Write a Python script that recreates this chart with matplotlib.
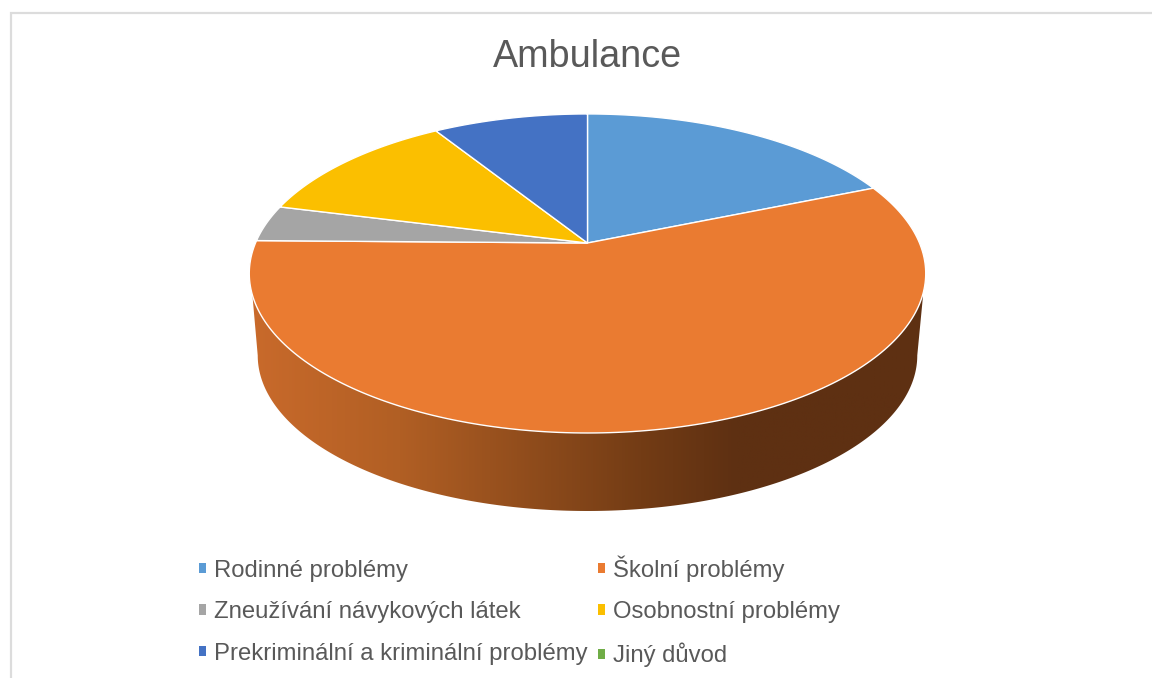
import numpy as np
import matplotlib
matplotlib.use("Agg")
import matplotlib.pyplot as plt
from matplotlib.colors import LinearSegmentedColormap
from matplotlib.patches import Patch, Polygon

plt.rcParams['font.family'] = ['Liberation Sans', 'DejaVu Sans']

title = "Ambulance"
categories = ["Rodinné problémy", "Školní problémy", "Zneužívání návykových látek",
              "Osobnostní problémy", "Prekriminální a kriminální problémy", "Jiný důvod"]
values = [18.75, 56.5, 3.7, 12.15, 8.9, 0.0]  # in percent
colors = ["#5B9BD5", "#EA7B31", "#A5A5A5", "#FBBF00", "#4472C4", "#70AD47"]

# geometry of the tilted disc, in reference pixels
cx, cy = 587.5, 243
rx, ry, persp = 332, 153.7, 0.191
low_scale, low_dy = 0.975, 78


def project(a, scale=1.0, dy=0.0):
    """angle clockwise from 12 o'clock -> pixel position on the tilted disc"""
    X, Y = np.sin(a), np.cos(a)
    w = 1 + persp * Y
    yy = cy - ry * Y / w
    bottom = cy + ry / (1 - persp)
    return cx + scale * rx * X / w, bottom + scale * (yy - bottom) + dy


fig = plt.figure(figsize=(11.52, 6.78), dpi=100)
ax = fig.add_axes([0, 0, 1, 1])

# frame of the screenshot, only top and left show
ax.plot([11, 11, 1152], [678, 13, 13], color="#DCDCDC", lw=1.6, solid_joinstyle="miter")

# side wall: gradient clipped to the outline between top and lower disc
t = np.linspace(0, 2 * np.pi, 721)
lx, ly = project(t, low_scale, low_dy)
i1, i2 = np.argmax(lx), np.argmin(lx)  # widest points, the front arc runs between them
outline = np.r_[[[923, 296]], np.c_[lx[i1:i2 + 1], ly[i1:i2 + 1]], [[252.5, 296]], [[587, 280]]]
wall_cmap = LinearSegmentedColormap.from_list("wall", [
    (0.0, "#C96A2B"), (0.22, "#B15F24"), (0.58, "#733C15"), (0.72, "#5E3012"), (1.0, "#5E3012")])
grad = np.linspace(0, 1, 512)[None, :]
im = ax.imshow(grad, cmap=wall_cmap, extent=[250, 926, 520, 270], aspect="auto", zorder=1)
clip = Polygon(outline, closed=True, transform=ax.transData, fc="none", ec="none")
ax.add_patch(clip)
im.set_clip_path(clip)

# top surface
edges = np.cumsum([0] + values) / sum(values) * 2 * np.pi
for i in range(len(values)):
    if values[i] == 0:
        continue
    a = np.linspace(edges[i], edges[i + 1], 200)
    px, py = project(a)
    pts = np.r_[[[cx, cy]], np.c_[px, py]]
    ax.add_patch(Polygon(pts, closed=True, fc=colors[i], ec="white", lw=1.0, zorder=2))

ax.text(587, 57, title, fontsize=27.2, color="#595959", ha="center", va="center")

# legend fills by column, so reorder to keep the reading order in rows
order = [0, 2, 4, 1, 3, 5]
handles = [Patch(fc=colors[i], ec="none", label=categories[i]) for i in order]
ax.legend(handles=handles, ncol=2, loc="upper left", bbox_to_anchor=(199, 555),
          bbox_transform=ax.transData, frameon=False, fontsize=17.2, labelcolor="#595959",
          handlelength=0.29, handleheight=0.29, handletextpad=0.35, columnspacing=0.42,
          labelspacing=0.825, borderpad=0, borderaxespad=0)

ax.set_xlim(0, 1152)
ax.set_ylim(678, 0)
ax.axis("off")
fig.savefig("out.png", dpi=100, facecolor="white")
